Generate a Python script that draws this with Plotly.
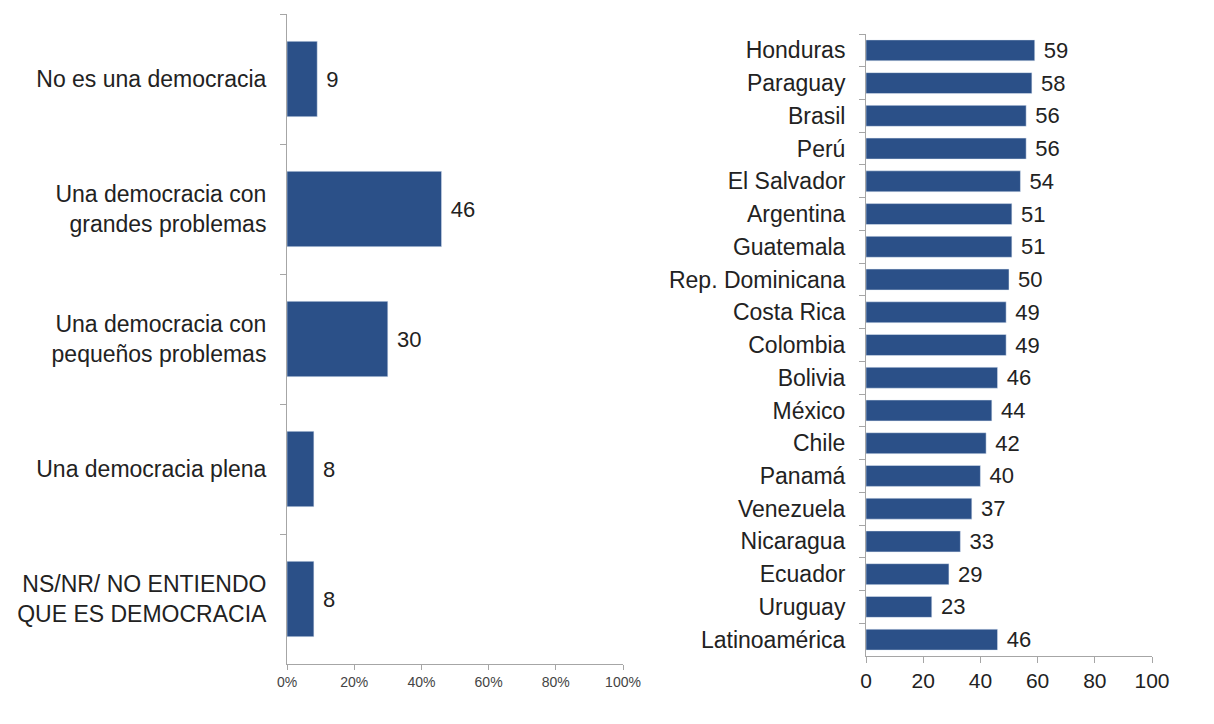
import plotly.graph_objects as go

left_categories = ["No es una democracia", "Una democracia con<br>grandes problemas",
                   "Una democracia con<br>pequeños problemas", "Una democracia plena",
                   "NS/NR/ NO ENTIENDO<br>QUE ES DEMOCRACIA"]
left_values = [9, 46, 30, 8, 8]
left_ticks = [0, 20, 40, 60, 80, 100]
left_ticktext = ["0%", "20%", "40%", "60%", "80%", "100%"]

countries = ["Honduras", "Paraguay", "Brasil", "Perú", "El Salvador", "Argentina", "Guatemala",
             "Rep. Dominicana", "Costa Rica", "Colombia", "Bolivia", "México", "Chile", "Panamá",
             "Venezuela", "Nicaragua", "Ecuador", "Uruguay", "Latinoamérica"]
country_values = [59, 58, 56, 56, 54, 51, 51, 50, 49, 49, 46, 44, 42, 40, 37, 33, 29, 23, 46]
right_ticks = [0, 20, 40, 60, 80, 100]

BAR = "#2B5088"
AXC = "#A6A6A6"
FONT = "Liberation Sans, Arial, sans-serif"
W, H = 1198, 708
OFF = 8  # page body margin


def px(x):
    return (x - OFF) / W


def py(y):
    return 1 - (y - OFF) / H


fig = go.Figure()
fig.add_trace(go.Bar(
    x=left_values, y=left_categories, orientation="h", marker_color=BAR, width=0.58,
    text=["\u00a0" + str(v) for v in left_values], textposition="outside",
    textfont=dict(size=22, color="#222"), cliponaxis=False, constraintext="none",
    xaxis="x", yaxis="y", showlegend=False))
fig.add_trace(go.Bar(
    x=country_values, y=countries, orientation="h", marker_color=BAR, width=0.64,
    text=["\u00a0" + str(v) for v in country_values], textposition="outside",
    textfont=dict(size=22, color="#222"), cliponaxis=False, constraintext="none",
    xaxis="x2", yaxis="y2", showlegend=False))

fig.update_layout(
    width=W, height=H,
    margin=dict(l=0, r=0, t=0, b=0, autoexpand=False),
    paper_bgcolor="white", plot_bgcolor="white",
    font=dict(family=FONT, color="#222"),
    xaxis=dict(domain=[px(287), px(623)], range=[0, 100], tickvals=left_ticks,
               ticktext=left_ticktext, tickfont=dict(size=14, color="#444"),
               showgrid=False, zeroline=False, showline=True, linecolor=AXC,
               ticks="outside", ticklen=5, tickcolor=AXC, anchor="y", automargin=False),
    yaxis=dict(domain=[py(664), py(14)], autorange="reversed",
               tickfont=dict(size=23, color="#222"), showgrid=False, zeroline=False,
               showline=True, linecolor=AXC, ticks="outside", ticklen=6, tickcolor=AXC,
               tickson="boundaries", ticklabelstandoff=15, anchor="x", automargin=False),
    xaxis2=dict(domain=[px(866), px(1152)], range=[0, 100], tickvals=right_ticks,
                tickfont=dict(size=21, color="#222"),
                showgrid=False, zeroline=False, showline=True, linecolor=AXC,
                ticks="outside", ticklen=6, tickcolor=AXC, anchor="y2", automargin=False),
    yaxis2=dict(domain=[py(656), py(34)], autorange="reversed",
                tickfont=dict(size=23, color="#222"), showgrid=False, zeroline=False,
                showline=True, linecolor=AXC, ticks="outside", ticklen=6, tickcolor=AXC,
                tickson="boundaries", ticklabelstandoff=15, anchor="x2", automargin=False),
)

fig.write_html("out.html")
